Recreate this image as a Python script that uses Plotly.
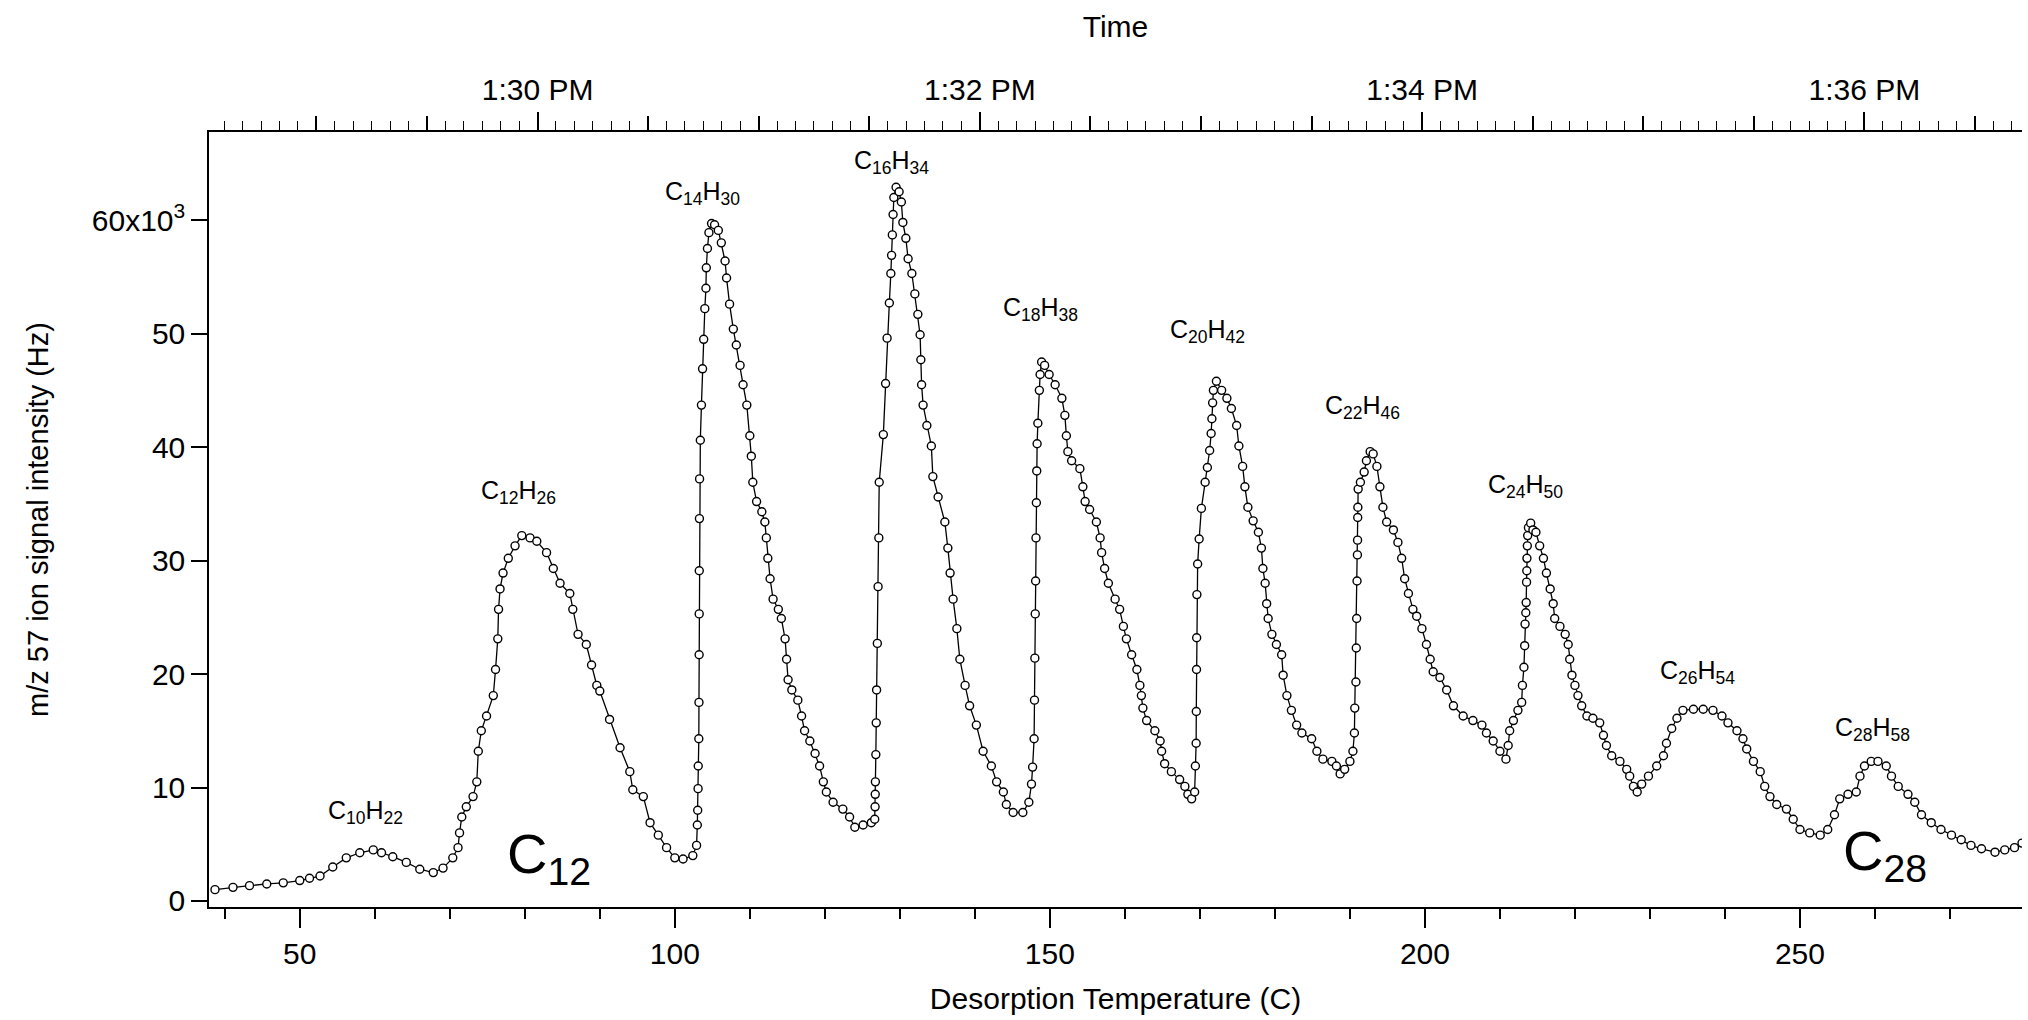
import datetime as dt
import plotly.graph_objects as go

# desorption temperature (C) and m/z 57 signal (x10^3 Hz)
temp_c = [
    38.7, 41.1, 43.3, 45.6, 47.8, 50.0, 51.3, 52.7, 54.4, 56.2, 58.0, 59.8, 60.9, 62.4,
    64.2, 66.0, 67.8, 69.1, 70.4, 71.1, 71.3, 71.6, 72.2, 73.1, 73.6, 73.8, 74.2, 74.9,
    75.8, 76.1, 76.4, 76.5, 76.7, 77.1, 77.8, 78.7, 79.6, 80.7, 81.6, 82.9, 83.8, 84.7,
    86.0, 86.4, 87.1, 88.2, 88.9, 89.6, 90.0, 91.3, 92.7, 94.0, 94.4, 95.8, 96.7, 97.8,
    98.9, 100.0, 101.1, 102.4, 102.9,
    103.0, 103.05, 103.1, 103.12, 103.2, 103.22, 103.24, 103.25, 103.26, 103.28, 103.3,
    103.4, 103.55, 103.7, 103.85, 104.0, 104.15, 104.2, 104.35, 104.55, 104.9, 105.3,
    105.8, 106.2, 106.7, 106.9, 107.3, 107.8, 108.2, 108.7, 109.1, 109.6, 110.0, 110.2,
    110.4, 110.9, 111.6, 112.0, 112.2, 112.4, 112.7, 113.1, 113.8, 114.2, 114.7, 114.9,
    115.1, 115.6, 116.4, 116.9, 117.3, 118.0, 118.7, 119.3, 119.8, 120.2, 121.1, 122.4,
    123.3, 124.0, 125.1, 126.2, 126.65,
    126.7, 126.72, 126.74, 126.8, 126.85, 126.9, 127.0, 127.1, 127.2, 127.25, 127.8,
    128.1, 128.3, 128.6, 128.8, 128.9, 129.0, 129.1, 129.2, 129.5, 129.9, 130.2, 130.4,
    130.8, 131.1, 131.6, 132.0, 132.4, 132.7, 132.8, 132.9, 133.1, 133.6, 134.2, 134.4,
    135.1, 136.0, 136.4, 136.7, 137.1, 137.6, 138.0, 138.7, 139.3, 140.2, 141.1, 142.2,
    142.9, 143.8, 144.2, 145.1, 146.4, 147.2,
    147.55, 147.7, 147.9, 147.95, 148.0, 148.05, 148.1, 148.15, 148.2, 148.25, 148.3,
    148.4, 148.6, 148.7, 148.9, 149.3, 149.9, 150.7, 151.6, 152.0, 152.2, 152.4, 152.9,
    154.0, 154.4, 154.7, 155.3, 156.2, 156.7, 156.9, 157.3, 157.8, 158.7, 159.3, 159.8,
    160.2, 160.9, 161.6, 162.0, 162.2, 162.4, 162.9, 164.0, 164.7, 164.9, 165.3, 166.2,
    167.3, 168.0, 168.4, 168.9, 169.3,
    169.4, 169.5, 169.52, 169.55, 169.57, 169.6, 169.7, 169.9, 170.2, 170.7, 171.0,
    171.3, 171.5, 171.6, 171.7, 171.8, 172.2, 172.9, 173.6, 174.2, 174.9, 175.2, 175.7,
    176.0, 176.4, 177.1, 177.8, 178.2, 178.4, 178.7, 178.9, 179.1, 179.6, 180.2, 180.9,
    181.1, 181.6, 182.2, 182.9, 183.6, 184.9, 185.6, 186.4, 187.6, 188.2, 188.7, 189.3,
    190.0, 190.4,
    190.6, 190.65, 190.8, 190.85, 190.9, 190.95, 191.0, 191.02, 191.04, 191.06, 191.1,
    191.4, 191.9, 192.2, 192.7, 193.1, 193.6, 194.0, 194.4, 194.9, 195.8, 196.4, 196.9,
    197.3, 197.8, 198.4, 198.9, 199.6, 200.2, 200.7, 201.1, 202.0, 202.9, 203.8, 205.1,
    206.4, 207.6, 208.2, 209.1, 210.0, 210.8, 211.1, 211.3, 211.8, 212.4, 212.9,
    213.0, 213.2, 213.3, 213.35, 213.45, 213.5, 213.55, 213.58, 213.6, 213.65, 213.7,
    213.8, 214.1, 214.4, 214.8, 215.3, 215.8, 216.2, 216.7, 217.1, 217.3, 218.0, 218.7,
    219.1, 219.3, 219.6, 220.0, 220.4, 220.9, 221.6, 222.4, 223.3, 223.8, 224.2, 224.9,
    226.0, 226.9, 227.3, 227.8, 228.3, 228.9, 229.8, 230.9, 231.8, 232.2, 232.9, 233.6,
    234.4, 235.8, 237.1, 238.4, 239.6, 240.4, 241.6, 242.4, 242.9, 243.8, 244.7, 245.3,
    246.0, 246.9, 248.2, 249.1, 250.0, 251.3, 252.7, 253.7, 254.6, 255.3, 256.4, 257.5,
    258.0, 258.6, 259.5, 260.4, 261.5, 262.2, 263.1, 264.4, 265.3, 266.2, 267.5, 268.8,
    270.2, 271.5, 272.8, 274.2, 276.0, 277.3, 278.6, 279.6,
]
signal_khz = [
    1.0, 1.2, 1.35, 1.5, 1.6, 1.8, 2.0, 2.2, 3.0, 3.8, 4.25, 4.5, 4.25, 3.9,
    3.4, 2.8, 2.5, 2.9, 3.8, 4.7, 6.0, 7.4, 8.3, 9.2, 10.5, 13.2, 15.0, 16.3,
    18.1, 20.4, 23.1, 25.7, 27.5, 28.9, 30.2, 31.3, 32.2, 32.0, 31.7, 30.7, 29.3, 28.0,
    27.1, 25.7, 23.5, 22.6, 20.8, 19.0, 18.5, 16.0, 13.5, 11.4, 9.8, 9.2, 6.9, 5.8,
    4.7, 3.8, 3.7, 4.0, 4.9,
    6.7, 8.0, 9.9, 11.9, 14.3, 17.5, 21.7, 25.3, 29.1, 33.7, 37.2,
    40.6, 43.7, 46.9, 49.5, 52.2, 54.0, 55.8, 57.5, 58.9, 59.7, 59.6,
    59.1, 58.0, 56.4, 54.9, 52.6, 50.4, 49.0, 47.2, 45.5, 43.7, 41.0, 39.2,
    36.9, 35.2, 34.3, 33.4, 32.0, 30.2, 28.4, 26.6, 25.7, 24.9, 23.1, 21.3,
    19.5, 18.6, 17.7, 16.3, 15.0, 14.1, 13.0, 11.9, 10.5, 9.6, 8.7, 8.1,
    7.4, 6.5, 6.7, 6.9, 7.2,
    8.3, 9.4, 10.5, 12.9, 15.7, 18.6, 22.7, 27.7, 32.0, 36.9, 41.1,
    45.6, 49.6, 52.7, 55.3, 56.9, 58.7, 60.5, 62.0, 62.9, 62.5, 61.6, 59.8,
    58.4, 56.6, 55.3, 53.5, 51.7, 49.9, 47.7, 45.5, 43.7, 41.9, 40.1, 37.4,
    35.6, 33.4, 31.1, 28.9, 26.6, 24.0, 21.3, 19.0, 17.2, 15.5, 13.2, 11.9,
    10.5, 9.6, 8.5, 7.8, 7.8, 8.7,
    10.3, 11.8, 14.3, 17.7, 21.4, 25.3, 28.2, 32.0, 35.1, 37.9, 40.3,
    42.1, 45.0, 46.4, 47.5, 47.2, 46.4, 45.5, 44.3, 42.8, 41.0, 39.6, 38.8,
    38.1, 36.5, 35.2, 34.5, 33.4, 32.0, 30.7, 29.3, 28.0, 26.6, 25.7, 24.2,
    23.1, 21.7, 20.4, 19.0, 18.1, 17.0, 15.9, 15.0, 14.1, 13.2, 12.1, 11.4,
    10.7, 10.1, 9.4, 9.0, 9.6,
    11.9, 13.9, 16.7, 20.4, 23.2, 27.0, 29.7, 31.9, 34.6, 36.9, 38.2,
    39.7, 41.2, 42.5, 43.9, 45.0, 45.8, 45.0, 44.3, 43.4, 41.9, 40.1, 38.3,
    36.5, 34.7, 33.5, 32.5, 31.1, 29.3, 28.0, 26.2, 24.9, 23.5, 22.6, 21.7,
    19.9, 18.1, 16.8, 15.5, 14.8, 14.3, 13.2, 12.5, 12.3, 11.9, 11.2, 11.6,
    12.3, 13.2,
    14.8, 17.0, 19.3, 22.3, 24.9, 28.2, 30.5, 31.8, 33.8, 34.7, 36.3,
    36.9, 37.8, 38.8, 39.6, 39.4, 38.3, 36.5, 34.7, 33.4, 32.7, 31.6, 30.2,
    28.4, 27.1, 25.7, 25.1, 24.0, 22.6, 21.3, 20.2, 19.7, 18.6, 17.2, 16.3,
    15.9, 15.5, 14.8, 14.1, 13.2, 12.5, 13.7, 15.0, 15.9, 16.8, 17.5,
    19.0, 20.6, 22.5, 24.4, 25.4, 26.3, 28.1, 29.1, 30.2, 31.3, 32.2,
    32.9, 33.3, 32.7, 32.5, 31.3, 30.2, 28.9, 27.5, 26.2, 24.9, 24.2, 23.5,
    22.6, 21.3, 19.9, 19.0, 18.1, 17.2, 16.3, 16.1, 15.7, 14.6, 13.7, 12.8,
    12.3, 11.6, 11.0, 10.1, 9.6, 10.3, 11.0, 11.9, 12.8, 13.9, 15.2, 16.1,
    16.8, 16.9, 16.9, 16.8, 16.3, 15.7, 15.0, 14.3, 13.4, 12.3, 11.4, 10.1,
    9.2, 8.5, 8.1, 7.2, 6.3, 6.0, 5.8, 6.3, 7.6, 9.0, 9.4, 9.6,
    11.0, 11.9, 12.3, 12.3, 11.9, 11.0, 10.1, 9.4, 8.7, 7.6, 6.9, 6.3,
    5.8, 5.4, 4.9, 4.6, 4.3, 4.5, 4.7, 5.1,
]

# peak labels
peak_labels = ["C<sub>10</sub>H<sub>22</sub>", "C<sub>12</sub>H<sub>26</sub>",
               "C<sub>14</sub>H<sub>30</sub>", "C<sub>16</sub>H<sub>34</sub>",
               "C<sub>18</sub>H<sub>38</sub>", "C<sub>20</sub>H<sub>42</sub>",
               "C<sub>22</sub>H<sub>46</sub>", "C<sub>24</sub>H<sub>50</sub>",
               "C<sub>26</sub>H<sub>54</sub>", "C<sub>28</sub>H<sub>58</sub>"]
peak_label_x = [58.7, 79.1, 103.7, 128.9, 148.7, 171.0, 191.7, 213.4, 236.3, 259.7]
peak_label_y = [7.8, 36.0, 62.4, 65.1, 52.2, 50.2, 43.5, 36.6, 20.2, 15.2]

big_labels = ["C<sub>12</sub>", "C<sub>28</sub>"]
big_label_x = [83.2, 261.3]
big_label_y = [3.8, 4.1]

y_ticks_khz = [0, 10, 20, 30, 40, 50, 60]
y_tick_text = ["0", "10", "20", "30", "40", "50", "60x10<sup>3</sup>"]

# temperature ramp -> clock time (top axis)
temp_range = [37.9, 279.6]
ramp_ref_time = dt.datetime(2000, 1, 1, 13, 30, 0)
ramp_ref_temp = 81.7
ramp_rate = 29.48  # C per minute


def temp_to_time(t):
    return ramp_ref_time + dt.timedelta(minutes=(t - ramp_ref_temp) / ramp_rate)


time_range = [temp_to_time(t) for t in temp_range]

FONT = "Liberation Sans, Arial, sans-serif"
signal_hz = [v * 1000 for v in signal_khz]

fig = go.Figure()
fig.add_trace(go.Scatter(
    x=temp_c, y=signal_hz, mode="lines+markers",
    line=dict(color="black", width=1.3),
    marker=dict(symbol="circle", size=8, color="white",
                line=dict(color="black", width=1.4)),
    showlegend=False,
))
# empty traces so the two time axes get drawn
for ax in ["x2", "x3"]:
    fig.add_trace(go.Scatter(x=time_range, y=[None, None], xaxis=ax, yaxis="y",
                             mode="lines", showlegend=False, hoverinfo="skip"))

for txt, x, y in zip(peak_labels, peak_label_x, peak_label_y):
    fig.add_annotation(x=x, y=y * 1000, text=txt, showarrow=False,
                       font=dict(family=FONT, size=25, color="black"))
for txt, x, y in zip(big_labels, big_label_x, big_label_y):
    fig.add_annotation(x=x, y=y * 1000, text=txt, showarrow=False,
                       font=dict(family=FONT, size=56, color="black"))

axis_common = dict(showgrid=False, zeroline=False, showline=True, linecolor="black",
                   linewidth=1.5, ticks="outside", tickcolor="black", tickwidth=1.5,
                   tickfont=dict(family=FONT, size=30, color="black"))

fig.update_layout(
    width=2028, height=1020,
    margin=dict(l=209, r=6, t=132, b=113),
    paper_bgcolor="white", plot_bgcolor="white",
    font=dict(family=FONT, color="black"),
    xaxis=dict(
        axis_common, range=temp_range, tick0=0, dtick=50, ticklen=19,
        minor=dict(dtick=10, tick0=0, ticklen=10, ticks="outside",
                   tickcolor="black", tickwidth=1.5, showgrid=False),
        title=dict(text="Desorption Temperature (C)", standoff=19,
                   font=dict(family=FONT, size=30, color="black")),
    ),
    xaxis2=dict(
        axis_common, type="date", overlaying="x", side="top", range=time_range,
        tick0="2000-01-01 13:30:00", dtick=30000, ticklen=14, showticklabels=False,
        minor=dict(dtick=5000, tick0="2000-01-01 13:30:00", ticklen=9, ticks="outside",
                   tickcolor="black", tickwidth=1.2, showgrid=False),
    ),
    xaxis3=dict(
        axis_common, type="date", overlaying="x", side="top", range=time_range,
        tick0="2000-01-01 13:30:00", dtick=120000, ticklen=18,
        tickformat="%-I:%M %p",
        title=dict(text="Time", standoff=27,
                   font=dict(family=FONT, size=30, color="black")),
    ),
    yaxis=dict(
        axis_common, range=[-530, 67770], tickvals=[v * 1000 for v in y_ticks_khz],
        ticktext=y_tick_text, ticklen=16,
        title=dict(text="m/z 57 ion signal intensity (Hz)", standoff=35,
                   font=dict(family=FONT, size=29, color="black")),
    ),
)

fig.write_html("out.html", config={"displayModeBar": False},
               post_script="document.body.style.margin='0';")
